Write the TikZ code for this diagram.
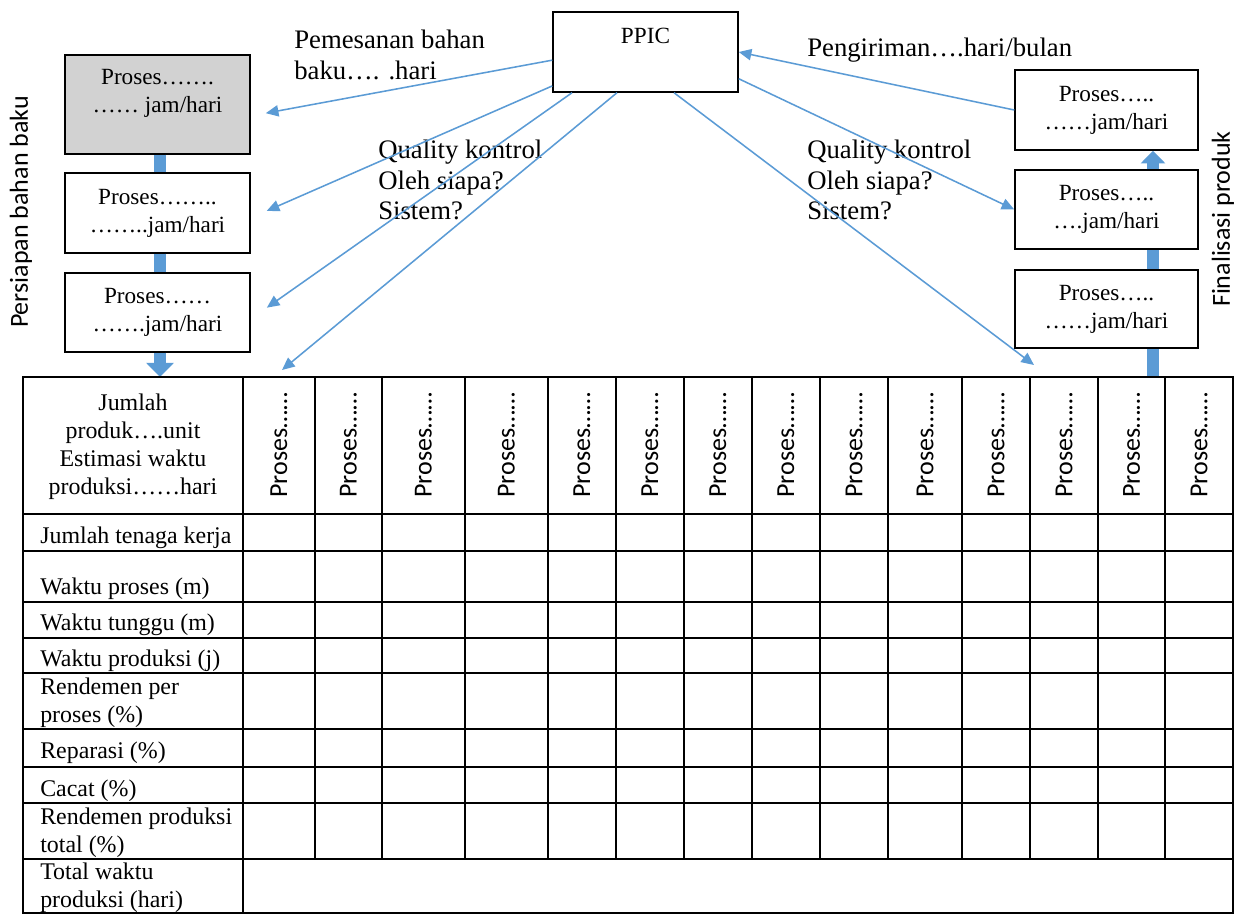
\documentclass[tikz,border=0pt]{standalone}
\usepackage{fontspec}
\setmainfont{Liberation Serif}
\newfontfamily\sidesans{Carlito}
\usetikzlibrary{arrows.meta}

\definecolor{arrowblue}{HTML}{5B9BD5}
\definecolor{barblue}{HTML}{5B9BD5}
\newcommand\boxfont{\fontsize{16.5}{20}\selectfont}
\newcommand\lblfont{\fontsize{19}{21.5}\selectfont}
\newcommand\rowfont{\fontsize{17}{20}\selectfont}
\newcommand\rotfont{\sidesans\fontsize{18.5}{20}\selectfont}

\tikzset{
  procbox/.style={draw, line width=1pt, minimum width=4.625cm, font=\boxfont, align=center, inner sep=2pt},
  qcarrow/.style={draw=arrowblue, line width=1.1pt, -{Triangle[length=9pt,width=8pt]}},
  flowbar/.style={draw=barblue, line width=8.5pt},
  tabline/.style={draw, line width=1.1pt},
  lbl/.style={font=\lblfont, align=left, anchor=west, inner sep=0pt},
  rowlbl/.style={font=\rowfont, align=left, anchor=west, inner sep=0pt},
  prosrot/.style={font=\rotfont, rotate=90, inner sep=0pt},
  sidelbl/.style={font=\rotfont, rotate=90, inner sep=0pt}
}

\begin{document}
\begin{tikzpicture}[x=0.025cm,y=-0.025cm]
\useasboundingbox (0,0) rectangle (1239,917);

% PPIC
\node[procbox, minimum height=2cm, label={[font=\boxfont, anchor=north, yshift=-0.3cm]north:PPIC}] (ppic) at (645.5,52) {};

% persiapan bahan baku
\node[procbox, fill=gray!35, minimum height=2.475cm, label={[font=\boxfont, align=center, yshift=0.28cm]center:Proses…….\\…… jam/hari}] (persA) at (157.5,104.5) {};
\node[procbox, minimum height=2cm] (persB) at (157.5,213) {Proses……..\\……..jam/hari};
\node[procbox, minimum height=1.975cm] (persC) at (157.5,312.5) {Proses……\\…….jam/hari};
\node[sidelbl] (persLbl) at (21,212) {Persiapan bahan baku};

% finalisasi produk
\node[procbox, minimum width=4.575cm, minimum height=2cm] (finA) at (1106.5,110) {Proses…..\\……jam/hari};
\node[procbox, minimum width=4.575cm, minimum height=1.975cm] (finB) at (1106.5,209.5) {Proses…..\\….jam/hari};
\node[procbox, minimum width=4.575cm, minimum height=1.95cm] (finC) at (1106.5,309) {Proses…..\\……jam/hari};
\node[sidelbl] (finLbl) at (1223,219) {Finalisasi produk};

% labels
\node[lbl] (pesan) at (294,55) {Pemesanan bahan\\baku…. .hari};
\node[lbl] (kirim) at (807,50) {Pengiriman….hari/bulan};
\node[lbl] (qcLeft) at (378,180) {Quality kontrol\\Oleh siapa?\\Sistem?};
\node[lbl] (qcRight) at (807,180) {Quality kontrol\\Oleh siapa?\\Sistem?};

% aliran proses
\coordinate (barL) at (160,0);
\coordinate (tabL) at (160,377);
\draw[flowbar] (persA.south -| barL) -- (persB.north -| barL);
\draw[flowbar] (persB.south -| barL) -- (persC.north -| barL);
\draw[flowbar, -{Triangle[length=10pt,width=19pt]}] (persC.south -| barL) -- (tabL);
\coordinate (barR) at (1153,0);
\coordinate (tabR) at (1153,377);
\draw[flowbar] (tabR) -- (finC.south -| barR);
\draw[flowbar] (finC.north -| barR) -- (finB.south -| barR);
\draw[flowbar, -{Triangle[length=9pt,width=17pt]}] (finB.north -| barR) -- (finA.south -| barR);

% arus informasi
\draw[qcarrow, shorten >=10.9pt] (ppic.185) -- (persA.-7);
\draw[qcarrow, shorten >=12.4pt] (ppic.200) -- (persB.-3);
\draw[qcarrow, shorten >=14pt] (ppic.209) -- (persC.-4);
\coordinate (qcL) at (282,370);
\draw[qcarrow] (ppic.235) -- (qcL);
\draw[qcarrow] (finA.west) -- (ppic.east);
\draw[qcarrow] (ppic.344) -- (finB.west);
\coordinate (qcR) at (1034,365);
\draw[qcarrow] (ppic.305) -- (qcR);

% tabel
\draw[tabline] (23,377) rectangle (1233,913);
\foreach \yy in {514,551,602,638,673,729,767,803,859}
  \draw[tabline] (23,\yy) -- (1233,\yy);
\draw[tabline] (243,377) -- (243,913);
\foreach \xx in {315,382,465,548,616,684,752,820,888,962,1030,1098,1165}
  \draw[tabline] (\xx,377) -- (\xx,859);

\node[font=\rowfont, align=center, inner sep=0pt] (headcell) at (133,447) {Jumlah\\produk….unit\\Estimasi waktu\\produksi……hari};
\foreach \xa/\xb [count=\i] in {243/315,315/382,382/465,465/548,548/616,616/684,684/752,752/820,820/888,888/962,962/1030,1030/1098,1098/1165,1165/1233}
  \node[prosrot] (proc\i) at ({(\xa+\xb)/2},445) {Proses……};

\foreach \yy/\nm/\txt in {538/kerja/{Jumlah tenaga kerja}, 589/proses/{Waktu proses (m)}, 625/tunggu/{Waktu tunggu (m)}, 661/produksi/{Waktu produksi (j)}, 703/rendemen/{Rendemen per\\proses (\%)}, 753/reparasi/{Reparasi (\%)}, 791/cacat/{Cacat (\%)}, 833/rendtotal/{Rendemen produksi\\total (\%)}, 888/waktutotal/{Total waktu\\produksi (hari)}}
  \node[rowlbl] (row\nm) at (40,\yy) {\txt};
\end{tikzpicture}
\end{document}
